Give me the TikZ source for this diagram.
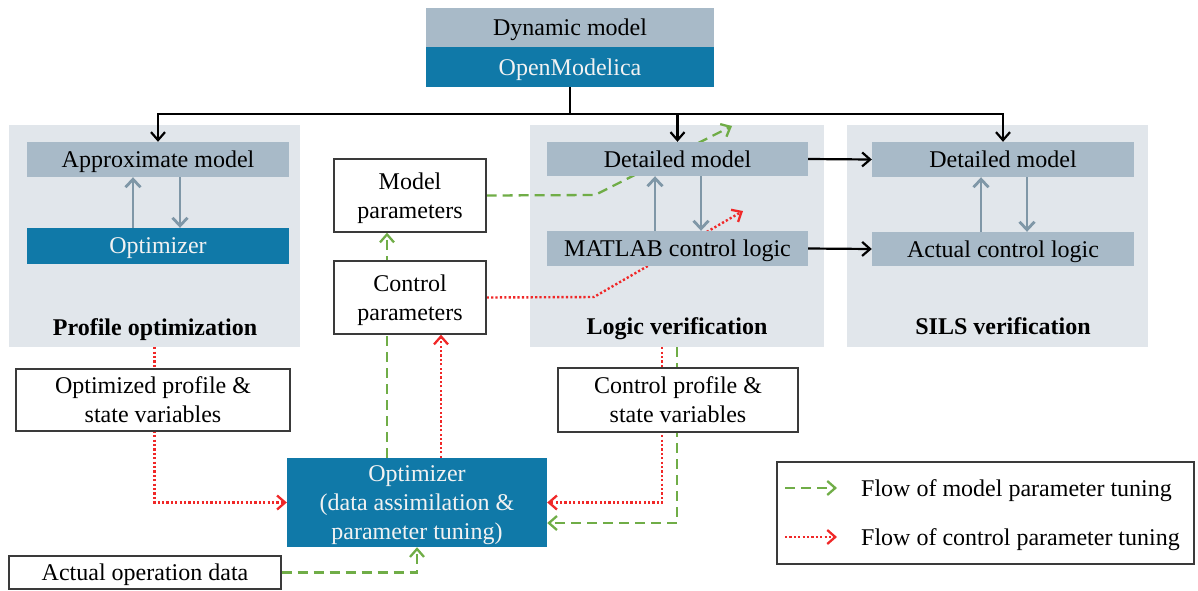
\documentclass[tikz,border=0pt]{standalone}
\usepackage{fontspec}
\setmainfont{Liberation Serif}
\usetikzlibrary{arrows.meta}
\definecolor{boxgray}{HTML}{A8BAC8}
\definecolor{boxblue}{HTML}{1079A8}
\definecolor{panelbg}{HTML}{E1E6EB}
\definecolor{innerarr}{HTML}{7F97A7}
\definecolor{flowgreen}{HTML}{70AD47}
\definecolor{flowred}{HTML}{F02828}
\definecolor{bordergray}{HTML}{3A3A3A}
\pgfdeclarelayer{panels}
\pgfdeclarelayer{lines}
\pgfsetlayers{panels,lines,main}
\tikzset{
  base/.style={rectangle, inner sep=0pt, align=center, text depth=0pt, font=\fontsize{24}{29}\selectfont},
  graybox/.style={base, fill=boxgray, text=black},
  bluebox/.style={base, fill=boxblue, text=white!95!black},
  whitebox/.style={base, fill=white, draw=bordergray, line width=1.3pt},
  panel/.style={rectangle, inner sep=0pt, fill=panelbg},
  plabel/.style={font=\fontsize{24}{29}\selectfont\bfseries, inner sep=0pt, text depth=0pt},
  tip/.style={-{Straight Barb[length=8pt,width=14pt,line width=2.2pt]}},
  blackarr/.style={tip, line width=2.2pt, black},
  innerline/.style={-{Straight Barb[length=8pt,width=15pt,line width=2.8pt]}, line width=2.8pt, innerarr},
  greenflow/.style={line width=2.3pt, flowgreen, dash pattern=on 10pt off 6pt},
  redflow/.style={line width=2.4pt, flowred, dash pattern=on 2.2pt off 2.2pt},
  greentip/.style={greenflow, -{Straight Barb[length=8pt,width=14pt,line width=2.3pt]}},
  redtip/.style={redflow, -{Straight Barb[length=8pt,width=14pt,line width=2.3pt]}},
}
\begin{document}
\begin{tikzpicture}[x=1pt,y=-1pt]
\useasboundingbox (0,0) rectangle (1198,590);

% panels
\begin{pgfonlayer}{panels}
\node[panel, minimum width=291pt, minimum height=222pt] (panel1) at (154.5,236) {};
\node[panel, minimum width=294pt, minimum height=222pt] (panel2) at (677,236) {};
\node[panel, minimum width=301pt, minimum height=222pt] (panel3) at (997.5,235.5) {};
\end{pgfonlayer}

% top
\node[graybox, minimum width=288pt, minimum height=39pt] (dyn) at (570,27.5) {Dynamic model};
\node[bluebox, minimum width=288pt, minimum height=40pt] (om) at (570,67) {OpenModelica};

% left panel
\node[graybox, minimum width=262pt, minimum height=35pt] (approx) at (158,159.5) {Approximate model};
\node[bluebox, minimum width=262pt, minimum height=36pt] (opt1) at (158,246) {Optimizer};
\node[plabel] (lab1) at (155,327) {Profile optimization};

% middle panel
\node[graybox, minimum width=261pt, minimum height=34pt] (det1) at (677.5,159) {Detailed model};
\node[graybox, minimum width=261pt, minimum height=35pt] (mat) at (677.5,248.5) {MATLAB control logic};
\node[plabel] (lab2) at (677,326) {Logic verification};

% right panel
\node[graybox, minimum width=262pt, minimum height=35pt] (det2) at (1003,159.5) {Detailed model};
\node[graybox, minimum width=262pt, minimum height=34pt] (act) at (1003,249) {Actual control logic};
\node[plabel] (lab3) at (1003,326) {SILS verification};

% parameter boxes
\node[whitebox, minimum width=152pt, minimum height=73pt] (mp) at (410,195.5) {Model\\parameters};
\node[whitebox, minimum width=152pt, minimum height=73pt] (cp) at (410,297.5) {Control\\parameters};

% profile boxes
\node[whitebox, minimum width=274pt, minimum height=62pt] (opb) at (153,400) {Optimized profile \&\\state variables};
\node[whitebox, minimum width=240pt, minimum height=64pt] (cpb) at (678,400) {Control profile \&\\state variables};

% main optimizer
\node[bluebox, minimum width=260pt, minimum height=89pt] (optm) at (417,502.5) {Optimizer\\(data assimilation \&\\parameter tuning)};

% actual operation data
\node[whitebox, minimum width=272pt, minimum height=33pt] (aod) at (145,572.5) {Actual operation data};

% legend
\node[rectangle, draw=bordergray, line width=1.3pt, minimum width=417pt, minimum height=102pt, inner sep=0pt] (leg) at (985.5,513) {};
\coordinate (l1a) at (785,488);
\coordinate (l1b) at (837,488);
\coordinate (l2a) at (785,537);
\coordinate (l2b) at (837,537);
\node[base, anchor=west] (lt1) at (861,488) {Flow of model parameter tuning};
\node[base, anchor=west] (lt2) at (861,537) {Flow of control parameter tuning};

\coordinate (junc) at (570,114);
\coordinate (gbend) at (595,195);
\coordinate (gtip) at (732,126);
\coordinate (rbend) at (594,297);
\coordinate (rtip) at (743,211);

\begin{pgfonlayer}{lines}
% black tree
\draw[line width=2.2pt] (om.south) -- (junc);
\draw[blackarr] (junc) -| (approx.north);
\draw[blackarr] (junc) -| (det1.north);
\draw[blackarr] (junc) -| (det2.north);
\draw[blackarr] (det1.east) -- (det2.west);
\draw[blackarr] (mat.east) -- (act.west);

% inner arrows
\draw[innerline] ([xshift=-25pt]opt1.north) -- ([xshift=-25pt]approx.south);
\draw[innerline] ([xshift=22pt]approx.south) -- ([xshift=22pt]opt1.north);
\draw[innerline] ([xshift=-22.5pt]mat.north) -- ([xshift=-22.5pt]det1.south);
\draw[innerline] ([xshift=23.5pt]det1.south) -- ([xshift=23.5pt]mat.north);
\draw[innerline] ([xshift=-22pt]act.north) -- ([xshift=-22pt]det2.south);
\draw[innerline] ([xshift=24pt]det2.south) -- ([xshift=24pt]act.north);

% green flows
\draw[greentip] ([xshift=-30pt]optm.north) -- ([xshift=-30pt]optm.north |- mp.south);
\draw[greentip] (mp.east) -- (gbend) -- (gtip);
\draw[greentip] (panel2.south) |- ([yshift=-20.5pt]optm.east);
\draw[greentip] (aod.east) -| (optm.south);
\draw[greentip] (l1a) -- (l1b);

% red flows
\draw[redtip] ([xshift=24pt]optm.north) -- ([xshift=24pt]optm.north |- cp.south);
\draw[redtip] (cp.east) -- (rbend) -- (rtip);
\draw[redtip] (panel1.south) |- (optm.west);
\draw[redtip] ([xshift=-15pt]panel2.south) |- (optm.east);
\draw[redtip] (l2a) -- (l2b);
\end{pgfonlayer}
\end{tikzpicture}
\end{document}
